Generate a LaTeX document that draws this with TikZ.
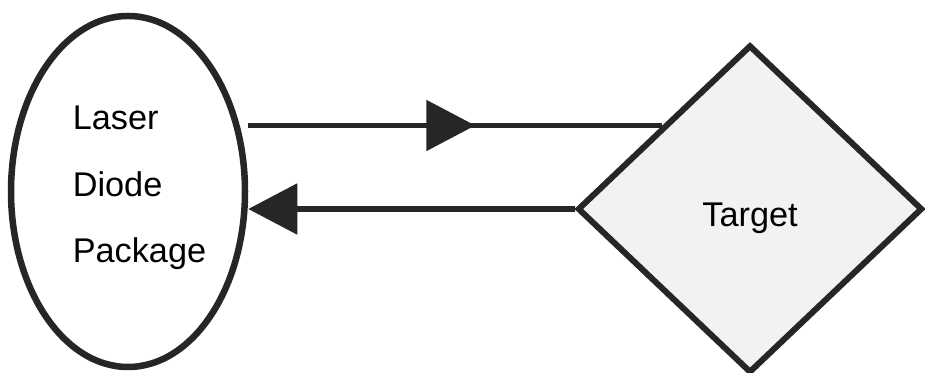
\documentclass[tikz,border=0pt]{standalone}
\usepackage{fontspec}
\setmainfont{Liberation Sans}
\usetikzlibrary{positioning, shapes.geometric, arrows.meta, decorations.markings}

\begin{document}
\begin{tikzpicture}[
  font=\fontsize{19.5pt}{37.8pt}\selectfont,
  >={Triangle[length=0.98cm, width=1cm]},
  laser/.style={ellipse, draw=black!85, line width=0.13cm, fill=white, minimum width=4.68cm, minimum height=7.02cm, inner sep=0pt},
  obj/.style={diamond, draw=black!85, line width=0.12cm, fill=black!5, minimum width=6.9cm, minimum height=6.56cm, inner sep=0pt, text height=0.7cm, text depth=0pt},
  beam/.style={draw=black!85, line width=0.11cm},
]
\useasboundingbox (0,0) rectangle (18.5,7.46);

\node[laser] (ldp) at (2.56,3.63) {};
\node[align=left, inner sep=0pt] (ldptext) at (2.79,3.70) {Laser\\Diode\\Package};
\node[obj] (tgt) at (15.0,3.28) {Target};

% outgoing beam, head halfway along
\draw[beam, postaction={decorate}, decoration={markings, mark=at position 4.54cm with {\arrow{>}}}]
  (ldp.east |- tgt.north west) -- (tgt.north west);
% reflected beam
\draw[beam, ->] (tgt.west) -- (tgt.west -| ldp.east);
\end{tikzpicture}
\end{document}
